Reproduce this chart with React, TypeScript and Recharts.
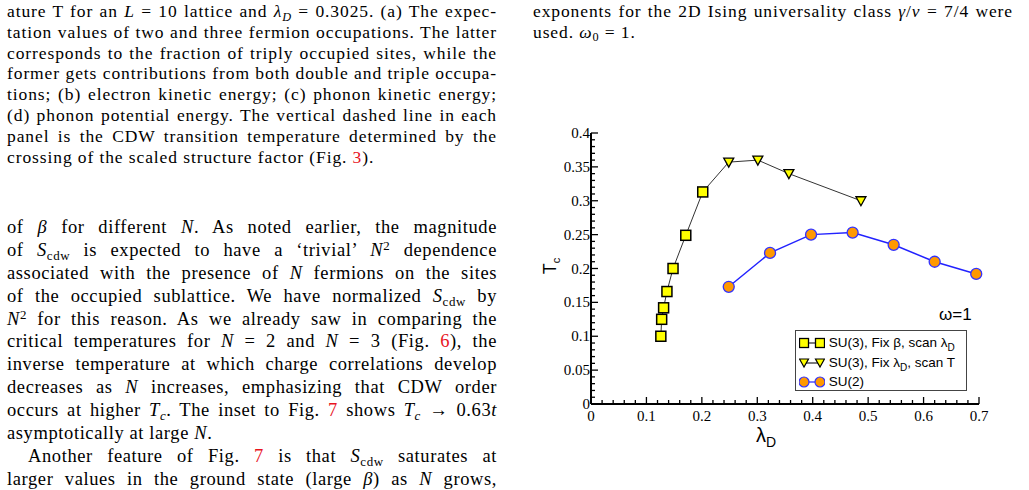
import React from "react";
import { LineChart, Line, XAxis, YAxis } from "recharts";

// SU(3), fix beta, scan lambda_D (squares)
const fixBetaLambda = [0.126, 0.1275, 0.131, 0.137, 0.148, 0.171, 0.2016];
const fixBetaTc = [0.1, 0.125, 0.142, 0.166, 0.2, 0.249, 0.313];

// SU(3), fix lambda_D, scan T (triangles) - first point sits under the last square
const fixLambdaLambda = [0.2016, 0.2485, 0.301, 0.357, 0.487];
const fixLambdaTc = [0.313, 0.357, 0.36, 0.34, 0.3];

// SU(2) (circles)
const su2Lambda = [0.2485, 0.323, 0.397, 0.472, 0.546, 0.62, 0.695];
const su2Tc = [0.173, 0.223, 0.25, 0.253, 0.235, 0.21, 0.192];

const xMajor = [0, 0.1, 0.2, 0.3, 0.4, 0.5, 0.6, 0.7];
const yMajor = [0, 0.05, 0.1, 0.15, 0.2, 0.25, 0.3, 0.35, 0.4];

// minor ticks: 5 subdivisions per major step
const subdivide = (major: number[]) => {
  const out: number[] = [];
  for (let i = 0; i < major.length - 1; i++) {
    const step = (major[i + 1] - major[i]) / 5;
    for (let k = 0; k < 5; k++) out.push(+(major[i] + k * step).toFixed(4));
  }
  out.push(major[major.length - 1]);
  return out;
};
const xTicks = subdivide(xMajor);
const yTicks = subdivide(yMajor);

const toPoints = (xs: number[], ys: number[]) => xs.map((x, i) => ({ x, tc: ys[i] }));

const isMajor = (v: number, major: number[]) => major.some((m) => Math.abs(m - v) < 1e-6);
const fmt = (v: number) => String(Number(v.toFixed(2)));

const TICK_FONT = "'Liberation Serif', 'Times New Roman', serif";
const SANS = "'Liberation Sans', Arial, Helvetica, sans-serif";

const BottomTick = (props: any) => {
  const { x, y, payload } = props;
  const major = isMajor(payload.value, xMajor);
  return (
    <g>
      <line x1={x} x2={x} y1={y} y2={y - (major ? 7 : 4)} stroke="#000" strokeWidth={1.3} />
      {major && (
        <text x={x} y={y + 17} textAnchor="middle" fontFamily={TICK_FONT} fontSize={15} fill="#000">
          {fmt(payload.value)}
        </text>
      )}
    </g>
  );
};

const TopTick = (props: any) => {
  const { x, y, payload } = props;
  const major = isMajor(payload.value, xMajor);
  return <line x1={x} x2={x} y1={y} y2={y + (major ? 7 : 4)} stroke="#000" strokeWidth={1.3} />;
};

const LeftTick = (props: any) => {
  const { x, y, payload } = props;
  const major = isMajor(payload.value, yMajor);
  return (
    <g>
      <line x1={x} x2={x + (major ? 7 : 4)} y1={y} y2={y} stroke="#000" strokeWidth={1.3} />
      {major && (
        <text x={x - 1} y={y + 5} textAnchor="end" fontFamily={TICK_FONT} fontSize={15} fill="#000">
          {fmt(payload.value)}
        </text>
      )}
    </g>
  );
};

const RightTick = (props: any) => {
  const { x, y, payload } = props;
  const major = isMajor(payload.value, yMajor);
  return <line x1={x} x2={x - (major ? 7 : 4)} y1={y} y2={y} stroke="#000" strokeWidth={1.3} />;
};

const SquareDot = (props: any) => {
  const { cx, cy, index } = props;
  return <rect key={`sq-${index}`} x={cx - 5} y={cy - 5} width={10} height={10} fill="#ffff00" stroke="#000" strokeWidth={1.5} />;
};

const TriangleDot = (props: any) => {
  const { cx, cy, index } = props;
  if (index === 0) return <g key={`tr-${index}`} />;
  return (
    <path
      key={`tr-${index}`}
      d={`M${cx - 5},${cy - 4} L${cx + 5},${cy - 4} L${cx},${cy + 5} Z`}
      fill="#ffff00"
      stroke="#000"
      strokeWidth={1.3}
    />
  );
};

const CircleDot = (props: any) => {
  const { cx, cy, index } = props;
  return <circle key={`ci-${index}`} cx={cx} cy={cy} r={5.5} fill="#ff9900" stroke="#3333ff" strokeWidth={1.3} />;
};

// small inline helpers for the paper text
const Sub = ({ children, italic }: { children: React.ReactNode; italic?: boolean }) => (
  <span style={{ fontSize: "0.7em", position: "relative", top: "0.3em", fontStyle: italic ? "italic" : "normal" }}>
    {children}
  </span>
);
const Sup = ({ children }: { children: React.ReactNode }) => (
  <span style={{ fontSize: "0.7em", position: "relative", top: "-0.45em" }}>{children}</span>
);
const I = ({ children }: { children: React.ReactNode }) => <i>{children}</i>;
const Ref = ({ children }: { children: React.ReactNode }) => <span style={{ color: "#e8141e" }}>{children}</span>;
const Scdw = () => (
  <>
    <I>S</I>
    <Sub>cdw</Sub>
  </>
);

const TextLine = ({
  children,
  height,
  justify = true,
  indent = 0,
}: {
  children: React.ReactNode;
  height: number;
  justify?: boolean;
  indent?: number;
}) => (
  <div
    style={{
      height,
      lineHeight: `${height}px`,
      textAlign: justify ? "justify" : "left",
      textAlignLast: justify ? "justify" : "left",
      paddingLeft: indent,
      whiteSpace: "normal",
    }}
  >
    {children}
  </div>
);

const LegendIcon = ({ kind }: { kind: "square" | "triangle" | "circle" }) => {
  const lineColor = kind === "circle" ? "#3333ff" : "#333";
  return (
    <svg width={26} height={14} style={{ verticalAlign: "middle" }}>
      <line x1={5} x2={21} y1={7} y2={7} stroke={lineColor} strokeWidth={1.3} />
      {kind === "square" &&
        [5, 21].map((c) => (
          <rect key={c} x={c - 4.5} y={2.5} width={9} height={9} fill="#ffff00" stroke="#000" strokeWidth={1.3} />
        ))}
      {kind === "triangle" &&
        [5, 21].map((c) => (
          <path key={c} d={`M${c - 4.5},${3} L${c + 4.5},${3} L${c},${11} Z`} fill="#ffff00" stroke="#000" strokeWidth={1.2} />
        ))}
      {kind === "circle" &&
        [5, 21].map((c) => (
          <circle key={c} cx={c} cy={7} r={5} fill="#ff9900" stroke="#3333ff" strokeWidth={1.2} />
        ))}
    </svg>
  );
};

export default function App() {
  const capH = 20.8;
  const bodyH = 22.9;
  const capStyle = { fontSize: 17.5, letterSpacing: 0.9 };
  const bodyStyle = { fontSize: 18.5, letterSpacing: 0.6 };

  return (
    <div
      style={{
        position: "absolute",
        left: 0,
        top: 0,
        width: 1029,
        height: 490,
        overflow: "hidden",
        background: "#fff",
        fontFamily: "'Liberation Serif', 'Times New Roman', serif",
        color: "#000",
      }}
    >
      {/* caption of the previous figure */}
      <div style={{ position: "absolute", left: 7, top: 1, width: 490, ...capStyle }}>
        <TextLine height={capH}>
          ature T for an <I>L</I> = 10 lattice and <I>λ</I>
          <Sub italic>D</Sub> = 0.3025. (a) The expec-
        </TextLine>
        <TextLine height={capH}>tation values of two and three fermion occupations. The latter</TextLine>
        <TextLine height={capH}>corresponds to the fraction of triply occupied sites, while the</TextLine>
        <TextLine height={capH}>former gets contributions from both double and triple occupa-</TextLine>
        <TextLine height={capH}>tions; (b) electron kinetic energy; (c) phonon kinetic energy;</TextLine>
        <TextLine height={capH}>(d) phonon potential energy. The vertical dashed line in each</TextLine>
        <TextLine height={capH}>panel is the CDW transition temperature determined by the</TextLine>
        <TextLine height={capH} justify={false}>
          crossing of the scaled structure factor (Fig. <Ref>3</Ref>).
        </TextLine>
      </div>

      {/* body text */}
      <div style={{ position: "absolute", left: 7, top: 216, width: 490, ...bodyStyle }}>
        <TextLine height={bodyH}>
          of <I>β</I> for different <I>N</I>. As noted earlier, the magnitude
        </TextLine>
        <TextLine height={bodyH}>
          of <Scdw /> is expected to have a ‘trivial’ <I>N</I>
          <Sup>2</Sup> dependence
        </TextLine>
        <TextLine height={bodyH}>
          associated with the presence of <I>N</I> fermions on the sites
        </TextLine>
        <TextLine height={bodyH}>
          of the occupied sublattice. We have normalized <Scdw /> by
        </TextLine>
        <TextLine height={bodyH}>
          <I>N</I>
          <Sup>2</Sup> for this reason. As we already saw in comparing the
        </TextLine>
        <TextLine height={bodyH}>
          critical temperatures for <I>N</I> = 2 and <I>N</I> = 3 (Fig. <Ref>6</Ref>), the
        </TextLine>
        <TextLine height={bodyH}>inverse temperature at which charge correlations develop</TextLine>
        <TextLine height={bodyH}>
          decreases as <I>N</I> increases, emphasizing that CDW order
        </TextLine>
        <TextLine height={bodyH}>
          occurs at higher <I>T</I>
          <Sub italic>c</Sub>. The inset to Fig. <Ref>7</Ref> shows <I>T</I>
          <Sub italic>c</Sub> → 0.63<I>t</I>
        </TextLine>
        <TextLine height={bodyH} justify={false}>
          asymptotically at large <I>N</I>.
        </TextLine>
        <TextLine height={bodyH} indent={21}>
          Another feature of Fig. <Ref>7</Ref> is that <Scdw /> saturates at
        </TextLine>
        <TextLine height={bodyH}>
          larger values in the ground state (large <I>β</I>) as <I>N</I> grows,
        </TextLine>
      </div>

      {/* right column caption end */}
      <div style={{ position: "absolute", left: 533, top: 1, width: 480, ...capStyle }}>
        <TextLine height={capH}>
          exponents for the 2D Ising universality class <I>γ</I>/<I>ν</I> = 7/4 were
        </TextLine>
        <TextLine height={capH} justify={false}>
          used. <I>ω</I>
          <Sub>0</Sub> = 1.
        </TextLine>
      </div>

      {/* chart */}
      <div style={{ position: "absolute", left: 540, top: 120 }}>
        <LineChart width={460} height={330} margin={{ top: 13, right: 21, bottom: 16, left: 11 }}>
          <XAxis
            xAxisId="bottom"
            type="number"
            dataKey="x"
            domain={[0, 0.7]}
            ticks={xTicks}
            interval={0}
            tickLine={false}
            tickSize={0}
            tickMargin={0}
            tick={BottomTick}
            axisLine={{ stroke: "#000", strokeWidth: 2 }}
            height={30}
          />
          <XAxis
            xAxisId="top"
            orientation="top"
            type="number"
            dataKey="x"
            domain={[0, 0.7]}
            ticks={xTicks}
            interval={0}
            tickLine={false}
            tickSize={0}
            tickMargin={0}
            tick={TopTick}
            axisLine={{ stroke: "#000", strokeWidth: 2 }}
            height={0}
          />
          <YAxis
            yAxisId="left"
            type="number"
            dataKey="tc"
            domain={[0, 0.4]}
            ticks={yTicks}
            interval={0}
            tickLine={false}
            tickSize={0}
            tickMargin={0}
            tick={LeftTick}
            axisLine={{ stroke: "#000", strokeWidth: 2 }}
            width={40}
          />
          <YAxis
            yAxisId="right"
            orientation="right"
            type="number"
            dataKey="tc"
            domain={[0, 0.4]}
            ticks={yTicks}
            interval={0}
            tickLine={false}
            tickSize={0}
            tickMargin={0}
            tick={RightTick}
            axisLine={{ stroke: "#000", strokeWidth: 2 }}
            width={0}
          />
          <Line
            xAxisId="bottom"
            yAxisId="left"
            data={toPoints(fixLambdaLambda, fixLambdaTc)}
            dataKey="tc"
            stroke="#333"
            strokeWidth={1}
            dot={TriangleDot}
            activeDot={false}
            isAnimationActive={false}
          />
          <Line
            xAxisId="bottom"
            yAxisId="left"
            data={toPoints(fixBetaLambda, fixBetaTc)}
            dataKey="tc"
            stroke="#333"
            strokeWidth={1}
            dot={SquareDot}
            activeDot={false}
            isAnimationActive={false}
          />
          <Line
            xAxisId="bottom"
            yAxisId="left"
            data={toPoints(su2Lambda, su2Tc)}
            dataKey="tc"
            stroke="#2222ff"
            strokeWidth={1.5}
            dot={CircleDot}
            activeDot={false}
            isAnimationActive={false}
          />
        </LineChart>
      </div>

      {/* axis titles */}
      <div
        style={{
          position: "absolute",
          left: 551,
          top: 266,
          transform: "translate(-50%, -50%) rotate(-90deg)",
          fontFamily: SANS,
          fontSize: 18,
          lineHeight: "18px",
          whiteSpace: "nowrap",
        }}
      >
        T<span style={{ fontSize: 11, position: "relative", top: 4 }}>c</span>
      </div>
      <div
        style={{
          position: "absolute",
          left: 756,
          top: 424,
          fontFamily: SANS,
          fontSize: 20,
          whiteSpace: "nowrap",
        }}
      >
        λ<span style={{ fontSize: 14, position: "relative", top: 5 }}>D</span>
      </div>

      {/* omega annotation */}
      <div style={{ position: "absolute", left: 939, top: 305, fontFamily: SANS, fontSize: 17 }}>ω=1</div>

      {/* legend */}
      <div
        style={{
          position: "absolute",
          left: 795,
          top: 330,
          width: 172,
          height: 61,
          border: "1px solid #444",
          fontFamily: SANS,
          fontSize: 13.5,
          background: "#fff",
          boxSizing: "border-box",
          paddingLeft: 3,
          paddingTop: 2,
        }}
      >
        <div style={{ height: 20, lineHeight: "20px", whiteSpace: "nowrap" }}>
          <LegendIcon kind="square" /> SU(3), Fix β, scan λ
          <span style={{ fontSize: 10, position: "relative", top: 4 }}>D</span>
        </div>
        <div style={{ height: 19, lineHeight: "19px", whiteSpace: "nowrap" }}>
          <LegendIcon kind="triangle" /> SU(3), Fix λ
          <span style={{ fontSize: 10, position: "relative", top: 4 }}>D</span>, scan T
        </div>
        <div style={{ height: 19, lineHeight: "19px", whiteSpace: "nowrap" }}>
          <LegendIcon kind="circle" /> SU(2)
        </div>
      </div>
    </div>
  );
}
